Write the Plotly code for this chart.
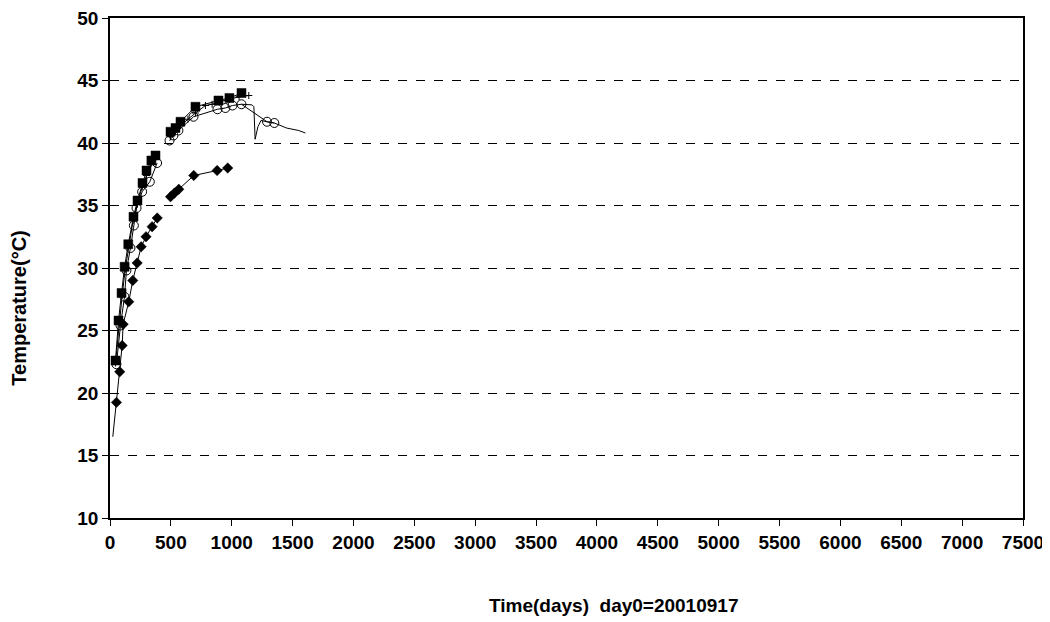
import plotly.graph_objects as go

# ---- data (days since 2001-09-17, temperature in degC) ----
sq_days = [45, 70, 95, 120, 150, 193, 226, 267, 300, 340, 374, None,
           497, 538, 579, 702, 891, 981, 1080]
sq_temp = [22.6, 25.8, 28.0, 30.1, 31.9, 34.1, 35.4, 36.8, 37.8, 38.6, 39.0, None,
           40.9, 41.2, 41.7, 42.9, 43.4, 43.6, 44.0]

circ_days = [53, 86, 119, 135, 168, 196, 218, 264, 327, 387, None,
             489, 521, 562, 686, 883, 948, 1006, 1080, 1290, 1350]
circ_temp = [22.3, 25.4, 27.7, 29.8, 31.6, 33.4, 34.8, 36.1, 36.9, 38.4, None,
             40.2, 40.6, 41.0, 42.1, 42.7, 42.8, 43.0, 43.1, 41.7, 41.6]
# unmarked continuation of the circle sensor record
circ_tail_days = [1080, 1167, 1182, 1192, 1215, 1240, 1290, 1350, 1450, 1550, 1605]
circ_tail_temp = [43.1, 43.05, 42.9, 40.3, 41.3, 41.8, 41.7, 41.6, 41.2, 41.0, 40.8]

thin_days = [45, 75, 100, 125, 155, 190, 225, 265, 300, 340, 375, None,
             497, 538, 579, 640, 702, 784, 839, 900, 980, 1060, 1140]
thin_temp = [22.4, 25.5, 27.8, 29.9, 31.8, 33.8, 35.1, 36.5, 37.4, 38.4, 38.8, None,
             40.5, 40.9, 41.4, 41.9, 42.4, 43.0, 43.1, 43.3, 43.5, 43.7, 43.8]

dia_days = [23, 53, 80, 100, 108, 154, 187, 223, 256, 296, 346, 388, None,
            497, 530, 565, 688, 880, 967]
dia_temp = [16.5, 19.25, 21.7, 23.8, 25.5, 27.3, 29.0, 30.4, 31.7, 32.5, 33.3, 34.0, None,
            35.7, 36.0, 36.3, 37.4, 37.8, 38.0]

x_ticks = list(range(0, 7501, 500))
y_ticks = list(range(10, 51, 5))

fig = go.Figure()

fig.add_trace(go.Scatter(x=circ_tail_days, y=circ_tail_temp, mode="lines",
                         line=dict(color="black", width=1), showlegend=False,
                         hoverinfo="skip"))
fig.add_trace(go.Scatter(x=circ_days, y=circ_temp, mode="lines+markers",
                         line=dict(color="black", width=1),
                         marker=dict(symbol="circle-open", size=9,
                                     color="black", line=dict(width=1, color="black")),
                         showlegend=False))
fig.add_trace(go.Scatter(x=thin_days, y=thin_temp, mode="lines+markers",
                         line=dict(color="black", width=1),
                         marker=dict(symbol="cross-thin", size=5,
                                     line=dict(color="black", width=1)),
                         showlegend=False))
fig.add_trace(go.Scatter(x=sq_days, y=sq_temp, mode="lines+markers",
                         line=dict(color="black", width=1),
                         marker=dict(symbol="square", size=9, color="black",
                                     line=dict(width=0.5, color="black")),
                         showlegend=False))
dia_sizes = [0] + [8] * (len(dia_days) - 1)
fig.add_trace(go.Scatter(x=dia_days, y=dia_temp, mode="lines+markers",
                         line=dict(color="black", width=1),
                         marker=dict(symbol="diamond", size=dia_sizes, color="black",
                                     opacity=1, line=dict(width=0.5, color="black")),
                         showlegend=False))

FONT = "Liberation Sans, Arial, sans-serif"
tickfont = dict(family=FONT, size=19, color="black", weight="bold")

fig.update_xaxes(range=[0, 7500], tickvals=x_ticks, ticks="outside", ticklen=6,
                 tickcolor="black", showgrid=False, zeroline=False,
                 showline=True, linecolor="black", linewidth=1.5, mirror=True,
                 tickfont=tickfont, automargin=False, ticklabeloverflow="allow")
fig.update_yaxes(range=[10, 50], tickvals=y_ticks, ticks="outside", ticklen=6,
                 tickcolor="black", showgrid=True, gridcolor="black",
                 griddash="dash", gridwidth=1, zeroline=False,
                 showline=True, linecolor="black", linewidth=1.5, mirror=True,
                 tickfont=tickfont, automargin=False, ticklabeloverflow="allow")

# page body has an 8px margin, so the figure is sized/offset to compensate
fig.update_layout(
    width=1042, height=614,
    margin=dict(l=102, r=27, t=10, b=104),
    paper_bgcolor="white", plot_bgcolor="white",
    annotations=[
        dict(text="Time(days)  day0=20010917", xref="paper", yref="paper",
             x=0.551, y=-0.174, xanchor="center", yanchor="middle",
             showarrow=False,
             font=dict(family=FONT, size=19, color="black", weight="bold")),
        dict(text="Temperature(°C)", xref="paper", yref="paper",
             x=-0.1, y=0.42, xanchor="center", yanchor="middle",
             textangle=-90, showarrow=False,
             font=dict(family=FONT, size=20, color="black", weight="bold")),
    ],
)

fig.write_html("out.html")
